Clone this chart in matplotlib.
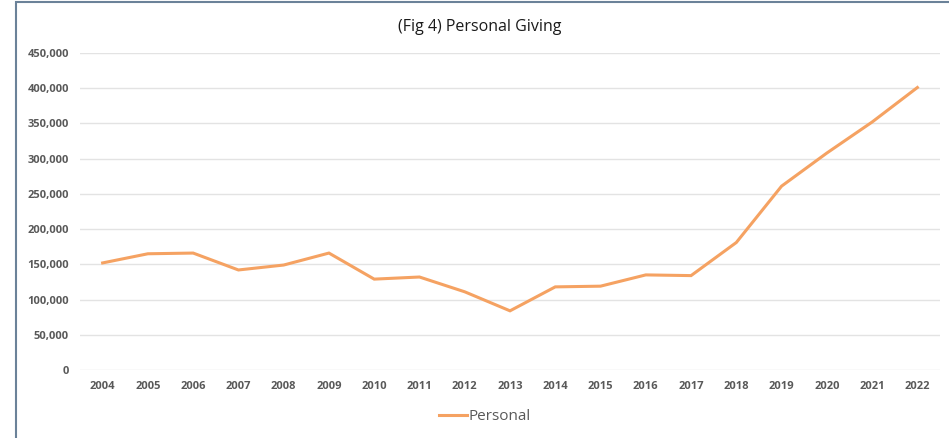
import matplotlib.pyplot as plt
from matplotlib.patches import Rectangle
from matplotlib.ticker import FuncFormatter

years = [str(y) for y in range(2004, 2023)]
personal = [152000, 165000, 166000, 142000, 149000, 166000, 129000, 132000, 111000, 84000,
            118000, 119000, 135000, 134000, 181000, 261000, 308000, 352000, 401000]

plt.rcParams['font.family'] = ['Open Sans', 'DejaVu Sans']

fig = plt.figure(figsize=(9.49, 4.38), dpi=100)
ax = fig.add_axes([80 / 949, 1 - 370 / 438, 860 / 949, 317 / 438])

x = list(range(len(years)))
ax.plot(x, personal, color='#F5A262', linewidth=2.2, label='Personal', solid_joinstyle='miter')

ax.set_xlim(-0.5, len(years) - 0.5)
ax.set_ylim(0, 450000)
ax.set_yticks(range(0, 450001, 50000))
ax.yaxis.set_major_formatter(FuncFormatter(lambda v, p: f'{int(v):,}'))
ax.set_xticks(x)
ax.set_xticklabels(years)
ax.tick_params(length=0, labelsize=8, labelcolor='#595959', pad=8)
for lbl in ax.get_xticklabels() + ax.get_yticklabels():
    lbl.set_fontweight('bold')

ax.grid(axis='y', color='#E3E3E3', linewidth=1)
ax.set_axisbelow(True)
for s in ax.spines.values():
    s.set_visible(False)

fig.text(480 / 949, 1 - 27 / 438, '(Fig 4) Personal Giving', ha='center', va='center',
         fontsize=11.5, color='#1a1a1a')

fig.legend(loc='center', bbox_to_anchor=(485 / 949, 1 - 417 / 438), frameon=False,
           fontsize=11, labelcolor='#595959', handlelength=1.8, handletextpad=0.1)

# outer frame (left and top edges visible)
fig.patches.append(Rectangle((16 / 949, -0.05), 2, 1 - 2 / 438 + 0.05, transform=fig.transFigure,
                             fill=False, edgecolor='#6B8299', linewidth=1.5))

fig.savefig('out.png', dpi=100)
